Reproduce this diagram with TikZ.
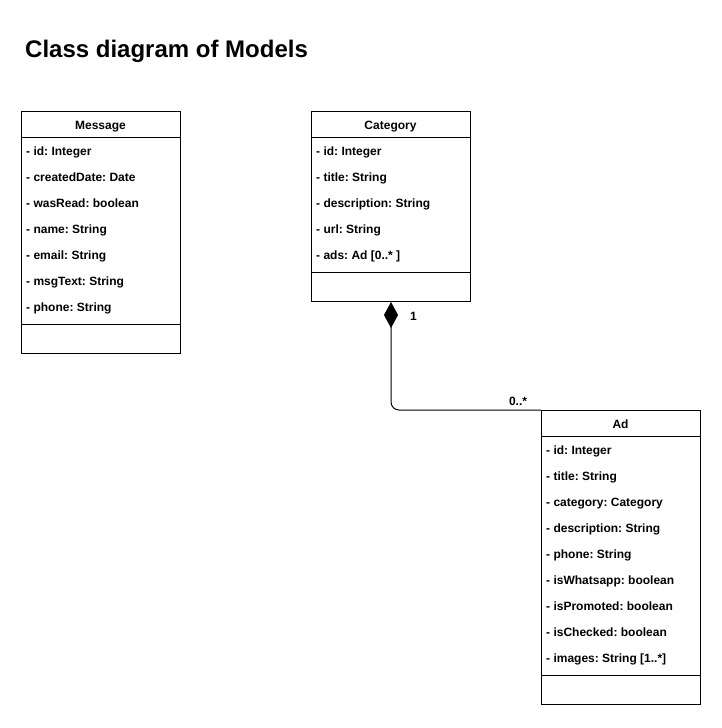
\documentclass[tikz,border=0pt]{standalone}
\usepackage{fontspec}
\setmainfont{Liberation Sans}
\usetikzlibrary{arrows.meta}

\newcommand{\attrsize}{\fontsize{12}{14}\selectfont\bfseries\frenchspacing}

\tikzset{
  classbox/.style={draw, line width=1pt, minimum width=159pt, anchor=north west, inner sep=0pt},
  head/.style={anchor=base, font=\attrsize, inner sep=0pt},
  attr/.style={anchor=base west, font=\attrsize, inner sep=0pt},
  mult/.style={anchor=base, font=\attrsize, inner sep=0pt}
}

\begin{document}
\begin{tikzpicture}[x=1pt,y=-1pt]
% frame of the page
\useasboundingbox (0,0) rectangle (721,728);

%title
\node[anchor=base west, font=\fontsize{24}{28}\selectfont\bfseries, inner sep=0pt] (title) at (25,57) {Class diagram of Models};

% Message
\node[classbox, minimum height=242pt] (message) at (21,111) {};
\draw[line width=1pt] ([yshift=-26pt]message.north west) -- ([yshift=-26pt]message.north east);
\draw[line width=1pt] ([yshift=30pt]message.south west) -- ([yshift=30pt]message.south east);
\node[head] (messagehead) at (100.5,129) {Message};
\node[attr] (m1) at (26,155.5) {- id: Integer};
\node[attr] (m2) at (26,181.5) {- createdDate: Date};
\node[attr] (m3) at (26,207.5) {- wasRead: boolean};
\node[attr] (m4) at (26,233.5) {- name: String};
\node[attr] (m5) at (26,259.5) {- email: String};
\node[attr] (m6) at (26,285.5) {- msgText: String};
\node[attr] (m7) at (26,311.5) {- phone: String};

% Category
\node[classbox, minimum height=190pt] (category) at (311,111) {};
\draw[line width=1pt] ([yshift=-26pt]category.north west) -- ([yshift=-26pt]category.north east);
\draw[line width=1pt] ([yshift=30pt]category.south west) -- ([yshift=30pt]category.south east);
\node[head] (categoryhead) at (390.5,129) {Category};
\node[attr] (c1) at (316,155.5) {- id: Integer};
\node[attr] (c2) at (316,181.5) {- title: String};
\node[attr] (c3) at (316,207.5) {- description: String};
\node[attr] (c4) at (316,233.5) {- url: String};
\node[attr] (c5) at (316,259.5) {- ads: Ad [0..* ]};

% Ad
\node[classbox, minimum height=294pt] (ad) at (541,410) {};
\draw[line width=1pt] ([yshift=-26pt]ad.north west) -- ([yshift=-26pt]ad.north east);
\draw[line width=1pt] ([yshift=30pt]ad.south west) -- ([yshift=30pt]ad.south east);
\node[head] (adhead) at (620.5,428) {Ad};
\node[attr] (a1) at (546,454.5) {- id: Integer};
\node[attr] (a2) at (546,480.5) {- title: String};
\node[attr] (a3) at (546,506.5) {- category: Category};
\node[attr] (a4) at (546,532.5) {- description: String};
\node[attr] (a5) at (546,558.5) {- phone: String};
\node[attr] (a6) at (546,584.5) {- isWhatsapp: boolean};
\node[attr] (a7) at (546,610.5) {- isPromoted: boolean};
\node[attr] (a8) at (546,636.5) {- isChecked: boolean};
\node[attr] (a9) at (546,662.5) {- images: String [1..*]};

%composition
\draw[line width=1pt, rounded corners=8pt, {Diamond[length=26pt,width=14pt]}-] (category.south) |- (ad.north west);
\node[mult] (one) at (413.5,320) {1};
\node[mult] (many) at (518,405) {0..*};

\end{tikzpicture}
\end{document}
